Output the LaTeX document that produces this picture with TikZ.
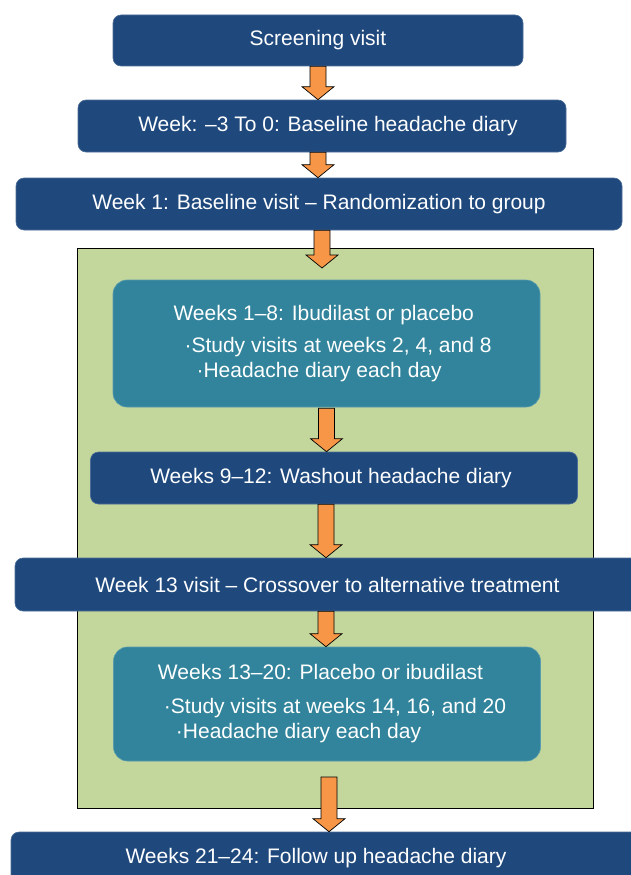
\documentclass[tikz,border=0pt]{standalone}
\usepackage{fontspec}
\setmainfont{Liberation Sans}
\usetikzlibrary{calc}
\definecolor{navybox}{HTML}{1F497D}
\definecolor{tealbox}{HTML}{31849B}
\definecolor{phasegreen}{HTML}{C3D69B}
\definecolor{arroworange}{HTML}{F79646}
\newcommand{\blockarrow}[2]{\draw[orangearrow] let \p1=(#1), \p2=(#2) in (\x1-8pt,\y1) -- (\x1+8pt,\y1) -- (\x1+8pt,\y2+13pt) -- (\x1+16pt,\y2+13pt) -- (\x1,\y2) -- (\x1-16pt,\y2+13pt) -- (\x1-8pt,\y2+13pt) -- cycle;}

\begin{document}
\begin{tikzpicture}[x=1pt, y=-1pt,
	navy/.style={fill=navybox, draw=navybox!80!white, line width=0.6pt, rounded corners=8pt, text=white, inner sep=0pt, font=\fontsize{21}{25}\selectfont},
	teal/.style={fill=tealbox, draw=tealbox!80!white, line width=0.6pt, rounded corners=14pt, text=white, inner sep=0pt, align=left, font=\fontsize{21}{25}\selectfont},
	orangearrow/.style={fill=arroworange, draw=black, line width=0.7pt, line join=miter}]
		%%%%% START %%%%%
		\useasboundingbox (0, 0) rectangle (631, 875);
		
		% treatment phase
		\draw[fill=phasegreen, line width=0.7pt] (77, 248) rectangle (593, 808);
		
		\node[navy, minimum width=410pt, minimum height=51pt] (screen) at (318, 40.5) {Screening visit};
		\node[navy, minimum width=488pt, minimum height=52pt] (diary) at (322, 126) {\hspace*{12pt}Week: –3 To 0: Baseline headache diary};
		\node[navy, minimum width=606pt, minimum height=52pt] (random) at (319, 204) {Week 1: Baseline visit – Randomization to group};
		
		\node[teal, minimum width=427pt, minimum height=127pt] (drugA) at (326.5, 343.5) {\hspace*{12pt}Weeks 1–8: Ibudilast or placebo\\[7pt]
			\hspace*{23pt}·Study visits at weeks 2, 4, and 8\\
			\hspace*{35pt}·Headache diary each day};
		\node[navy, minimum width=487pt, minimum height=52pt] (washout) at (334, 478) {\hspace*{-6pt}Weeks 9–12: Washout headache diary};
		\node[navy, minimum width=625pt, minimum height=53pt] (cross) at (327.5, 584.5) {Week 13 visit – Crossover to alternative treatment};
		\node[teal, minimum width=427pt, minimum height=114pt] (drugB) at (327, 704) {\hspace*{10pt}Weeks 13–20: Placebo or ibudilast\\[9pt]
			\hspace*{16pt}·Study visits at weeks 14, 16, and 20\\
			\hspace*{28pt}·Headache diary each day};
		\node[navy, minimum width=639pt, minimum height=53pt] (follow) at (330.5, 858.5) {\hspace*{-29pt}Weeks 21–24: Follow up headache diary};
		
		\coordinate (phasetop) at (322, 268);
		\coordinate (phaseend) at (329, 777);
		
		% arrows
		\blockarrow{screen.south}{diary.north}
		\blockarrow{$(diary.south)+(-4,0)$}{random.north}
		\blockarrow{$(random.south)+(3,0)$}{phasetop}
		\blockarrow{$(drugA.south)+(0,1)$}{washout.north}
		\blockarrow{$(washout.south)+(-8,0)$}{cross.north}
		\blockarrow{$(cross.south)+(-1.5,0)$}{drugB.north}
		\blockarrow{phaseend}{follow.north}
		
		%%%%% END %%%%%
\end{tikzpicture}
\end{document}
